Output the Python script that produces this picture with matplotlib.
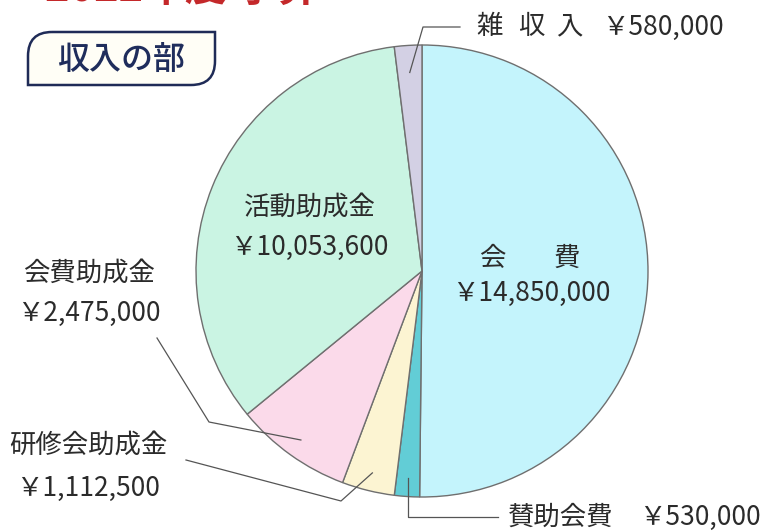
import numpy as np
import matplotlib
matplotlib.use('Agg')
import matplotlib.pyplot as plt
from matplotlib.path import Path
from matplotlib.patches import PathPatch

plt.rcParams['font.family'] = ['Noto Sans CJK JP', 'DejaVu Sans']

# 収入の部 (円)
categories = ['会費', '賛助会費', '研修会助成金', '会費助成金', '活動助成金', '雑収入']
amounts = [14850000, 530000, 1112500, 2475000, 10053600, 580000]
amount_labels = ['￥14,850,000', '￥530,000', '￥1,112,500', '￥2,475,000', '￥10,053,600', '￥580,000']
colors = ['#c4f4fc', '#62cdd6', '#fcf4d2', '#fbdaea', '#caf4e3', '#d3d0e4']

W, H = 761, 531
cx, cy, R = 422, 271, 226

fig = plt.figure(figsize=(W / 100, H / 100), dpi=100)
ax = fig.add_axes([0, 0, 1, 1])

# y axis is flipped, so counterclock=True draws clockwise on screen
wedges, _ = ax.pie(amounts, colors=colors, center=(cx, cy), radius=R,
                   startangle=-90, counterclock=True, frame=True,
                   wedgeprops=dict(edgecolor='#6f6f6f', linewidth=1.0))
ax.set_xlim(0, W)
ax.set_ylim(H, 0)
ax.set_aspect('equal')
ax.axis('off')


def anchor(i, frac=0.92):
    w = wedges[i]
    th = np.deg2rad((w.theta1 + w.theta2) / 2)
    return cx + frac * R * np.cos(th), cy + frac * R * np.sin(th)


txt = dict(fontsize=19, color='#2b2b2b')
line = dict(color='#555555', linewidth=0.9)

# red title (cut off at the top edge, as in the source)
ax.text(45, 1, '2022年度 予算', fontsize=30, color='#c4282a',
        fontweight='bold', ha='left', va='baseline')

# header box with two rounded corners
x0, y0, x1, y1, r = 28, 32, 215, 85, 24
verts = [(x0 + r, y0), (x1, y0), (x1, y1 - r), (x1, y1), (x1 - r, y1),
         (x0, y1), (x0, y0 + r), (x0, y0), (x0 + r, y0)]
codes = [Path.MOVETO, Path.LINETO, Path.LINETO, Path.CURVE3, Path.CURVE3,
         Path.LINETO, Path.LINETO, Path.CURVE3, Path.CURVE3]
ax.add_patch(PathPatch(Path(verts, codes), facecolor='#fffef6',
                       edgecolor='#1f2b57', linewidth=1.8))
ax.text((x0 + x1) / 2, (y0 + y1) / 2 + 1, '収入の部', fontsize=23,
        color='#1f2d5c', fontweight='medium', ha='center', va='center')

# inside labels
ax.text(492, 258, '会', ha='center', va='center', **txt)
ax.text(567, 258, '費', ha='center', va='center', **txt)
ax.text(531, 293, amount_labels[0], ha='center', va='center', **txt)
ax.text(310, 207, categories[4], ha='center', va='center', **txt)
ax.text(309, 247, amount_labels[4], ha='center', va='center', **txt)

# 雑収入
ax0, ay0 = anchor(5, 0.88)
ax.plot([ax0, 423, 460], [ay0, 27, 27], **line)
for ch, xc in zip(categories[5], [490, 531, 569]):
    ax.text(xc, 27, ch, ha='center', va='center', **txt)
ax.text(602, 27, amount_labels[5], ha='left', va='center', **txt)

# 賛助会費
bx, by = anchor(1)
ax.plot([bx, bx, 498], [by, 517, 517], **line)
ax.text(508, 517, categories[1], ha='left', va='center', **txt)
ax.text(639, 517, amount_labels[1], ha='left', va='center', **txt)

# 研修会助成金
kx, ky = anchor(2)
ax.plot([kx, 341, 186], [ky, 501, 460], **line)
ax.text(88, 445, categories[2], ha='center', va='center', **txt)
ax.text(88, 488, amount_labels[2], ha='center', va='center', **txt)

# 会費助成金
hx, hy = anchor(3)
ax.plot([hx, 209, 157], [hy, 422, 338], **line)
ax.text(89, 273, categories[3], ha='center', va='center', **txt)
ax.text(89, 313, amount_labels[3], ha='center', va='center', **txt)

fig.savefig('out.png', dpi=100, facecolor='white')
